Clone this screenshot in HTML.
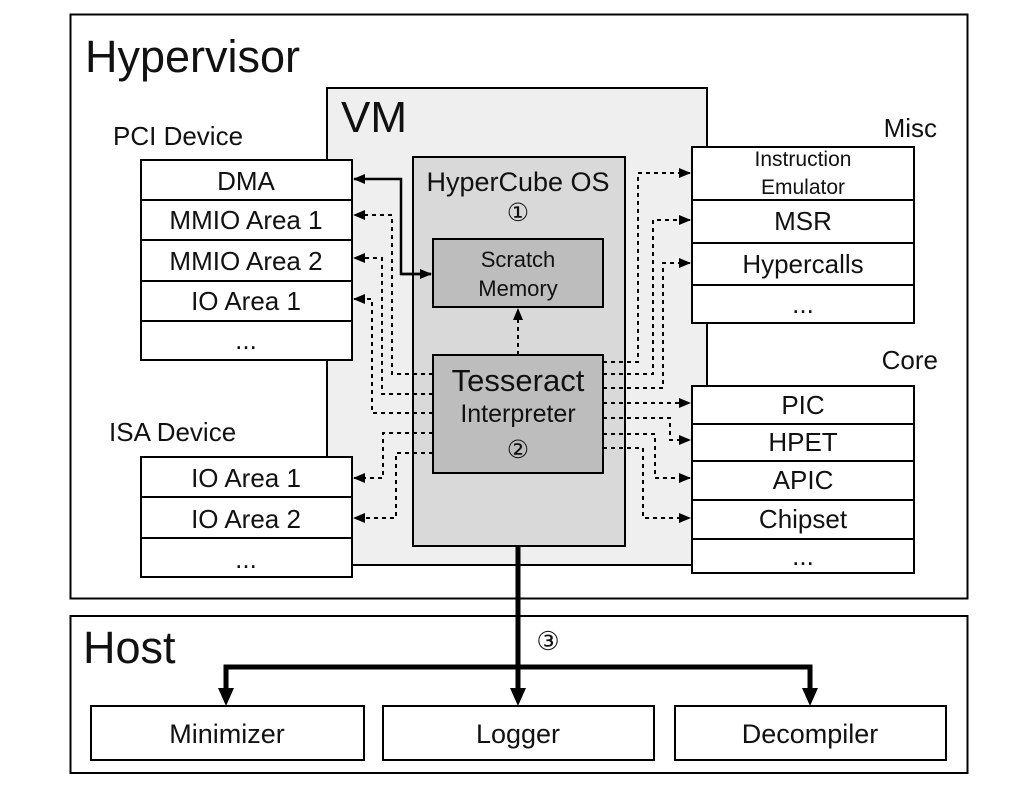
<!DOCTYPE html>
<html><head><meta charset="utf-8"><style>
body{margin:0;background:#fff}
svg text{font-family:"Liberation Sans",Arial,sans-serif;fill:#111}
</style></head><body>
<svg width="1024" height="801" viewBox="0 0 1024 801" xmlns="http://www.w3.org/2000/svg">
<defs>
<marker id="a" markerWidth="12" markerHeight="10" refX="11" refY="5" orient="auto" markerUnits="userSpaceOnUse"><path d="M0,0 L12,5 L0,10 z" fill="#000"/></marker>
</defs>
<rect x="70.5" y="14.5" width="897" height="584" fill="#fff" stroke="#000" stroke-width="2"/>
<text x="85" y="72" font-size="45">Hypervisor</text>
<rect x="327" y="88" width="380" height="477" fill="#efefef" stroke="#000" stroke-width="2"/>
<text x="341" y="132" font-size="44">VM</text>
<rect x="413" y="157" width="212" height="389" fill="#d9d9d9" stroke="#000" stroke-width="2"/>
<text x="518" y="191" font-size="27" text-anchor="middle">HyperCube OS</text>
<text x="518" y="221" font-size="25" text-anchor="middle">①</text>
<rect x="433" y="239" width="170" height="68" fill="#bdbdbd" stroke="#000" stroke-width="2"/>
<text x="518" y="267" font-size="22" text-anchor="middle">Scratch</text>
<text x="518" y="296" font-size="22" text-anchor="middle">Memory</text>
<rect x="433" y="355" width="170" height="118" fill="#bdbdbd" stroke="#000" stroke-width="2"/>
<text x="518" y="391" font-size="31" text-anchor="middle">Tesseract</text>
<text x="518" y="422" font-size="25" text-anchor="middle">Interpreter</text>
<text x="518" y="458" font-size="25" text-anchor="middle">②</text>

<g fill="#fff" stroke="#000" stroke-width="2">
<rect x="141" y="160" width="211" height="200"/>
<line x1="141" y1="200" x2="352" y2="200"/><line x1="141" y1="240" x2="352" y2="240"/><line x1="141" y1="281" x2="352" y2="281"/><line x1="141" y1="321" x2="352" y2="321"/>
<rect x="141" y="457" width="211" height="120"/>
<line x1="141" y1="497" x2="352" y2="497"/><line x1="141" y1="538" x2="352" y2="538"/>
<rect x="692" y="147" width="222" height="176"/>
<line x1="692" y1="200" x2="914" y2="200"/><line x1="692" y1="243" x2="914" y2="243"/><line x1="692" y1="285" x2="914" y2="285"/>
<rect x="692" y="386" width="222" height="187"/>
<line x1="692" y1="424" x2="914" y2="424"/><line x1="692" y1="461" x2="914" y2="461"/><line x1="692" y1="500" x2="914" y2="500"/><line x1="692" y1="539" x2="914" y2="539"/>
</g>
<g font-size="26" text-anchor="middle">
<text x="113" y="145" text-anchor="start">PCI Device</text>
<text x="246" y="190">DMA</text><text x="246" y="229">MMIO Area 1</text><text x="246" y="270">MMIO Area 2</text><text x="246" y="310">IO Area 1</text><text x="246" y="349">...</text>
<text x="109" y="441" text-anchor="start">ISA Device</text>
<text x="246" y="487">IO Area 1</text><text x="246" y="528">IO Area 2</text><text x="246" y="568">...</text>
<text x="937" y="137" text-anchor="end">Misc</text>
<text x="803" y="166" font-size="21">Instruction</text><text x="803" y="194" font-size="21">Emulator</text>
<text x="803" y="230">MSR</text><text x="803" y="273">Hypercalls</text><text x="803" y="313">...</text>
<text x="938" y="369" text-anchor="end">Core</text>
<text x="803" y="414">PIC</text><text x="803" y="451">HPET</text><text x="803" y="489">APIC</text><text x="803" y="528">Chipset</text><text x="803" y="565">...</text>
</g>

<polyline points="431,274 401,274 401,179 354,179" fill="none" stroke="#000" stroke-width="2.5" marker-end="url(#a)"/>
<path d="M401,274 L431,274" stroke="#000" stroke-width="2.5" marker-end="url(#a)"/>
<g fill="none" stroke="#000" stroke-width="2" stroke-dasharray="4,4" marker-end="url(#a)">
<polyline points="518,355 518,309"/>
<polyline points="433,374 392,374 392,215 354,215"/>
<polyline points="433,394 382,394 382,258 354,258"/>
<polyline points="433,413 372,413 372,299 354,299"/>
<polyline points="433,433 383,433 383,478 354,478"/>
<polyline points="433,453 396,453 396,518 354,518"/>
<polyline points="603,362 638,362 638,173 690,173"/>
<polyline points="603,374 653,374 653,220 690,220"/>
<polyline points="603,388 663,388 663,263 690,263"/>
<polyline points="603,403 690,403"/>
<polyline points="603,418 670,418 670,440 690,440"/>
<polyline points="603,434 655,434 655,478 690,478"/>
<polyline points="603,448 643,448 643,518 690,518"/>
</g>

<rect x="70.5" y="616" width="897" height="157" fill="#fff" stroke="#000" stroke-width="2"/>
<text x="83" y="663" font-size="45">Host</text>
<text x="548" y="650" font-size="26" text-anchor="middle">③</text>
<g fill="none" stroke="#000" stroke-width="5">
<line x1="518" y1="546" x2="518" y2="690"/>
<polyline points="226,690 226,667 810,667 810,690"/>
</g>
<g fill="#000">
<path d="M218,688 L234,688 L226,706 z"/><path d="M510,688 L526,688 L518,706 z"/><path d="M802,688 L818,688 L810,706 z"/>
</g>
<g fill="#fff" stroke="#000" stroke-width="2">
<rect x="91" y="706" width="273" height="54"/><rect x="383" y="706" width="271" height="54"/><rect x="675" y="706" width="271" height="54"/>
</g>
<g font-size="27" text-anchor="middle">
<text x="227" y="743">Minimizer</text><text x="518" y="743">Logger</text><text x="810" y="743">Decompiler</text>
</g>
</svg>
</body></html>
